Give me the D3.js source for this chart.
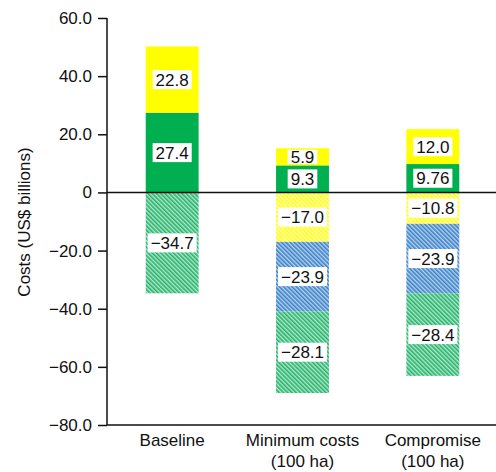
<!DOCTYPE html>
<html>
<head>
<meta charset="utf-8" />
<title>Costs by scenario</title>
<style>
html, body {
  margin: 0;
  padding: 0;
  background: #fff;
}
svg text {
  font-family: "Liberation Sans", Arial, Helvetica, sans-serif;
  fill: #111;
}
</style>
</head>
<body>
<script src="https://cdn.jsdelivr.net/npm/d3@7"></script>
<script>

// --------------------------------------------------------
// Data
const categories = [["Baseline"], ["Minimum costs", "(100 ha)"], ["Compromise", "(100 ha)"]]
const posGreen  = [27.4, 9.3, 9.76]
const posYellow = [22.8, 5.9, 12.0]
const negYellow = [0, -17.0, -10.8]
const negBlue   = [0, -23.9, -23.9]
const negGreen  = [-34.7, -28.1, -28.4]
const yTicks = [60, 40, 20, 0, -20, -40, -60, -80]

// stacking order: positives go up from zero, negatives go down
const series = [
  { key: 'posGreen',  values: posGreen,  fill: '#00b050' },
  { key: 'posYellow', values: posYellow, fill: '#ffff00' },
  { key: 'negYellow', values: negYellow, fill: 'url(#hatchYellow)' },
  { key: 'negBlue',   values: negBlue,   fill: 'url(#hatchBlue)' },
  { key: 'negGreen',  values: negGreen,  fill: 'url(#hatchGreen)' }
]

// --------------------------------------------------------
const w = 496
const h = 472
const axisX = 107
const fontSize = 17

const svg = d3.select('body').append('svg')
  .attr('width', w)
  .attr('height', h)

const x = d3.scaleBand()
  .domain(d3.range(categories.length))
  .range([axisX, 498])
  .paddingInner(0.594)
  .paddingOuter(0.297)

const y = d3.scaleLinear()
  .domain([-80, 60])
  .range([425, 18])

// hatch patterns for the negative (saved) costs
const defs = svg.append('defs')
function hatch(id, color, bg) {
  const p = defs.append('pattern')
    .attr('id', id)
    .attr('patternUnits', 'userSpaceOnUse')
    .attr('width', 3)
    .attr('height', 3)
    .attr('patternTransform', 'rotate(-45)')
  p.append('rect').attr('width', 3).attr('height', 3).attr('fill', bg)
  p.append('rect').attr('width', 1.6).attr('height', 3).attr('fill', color)
}
hatch('hatchYellow', '#ffff00', '#ffffd0')
hatch('hatchBlue', '#3a80c8', '#b8d4ee')
hatch('hatchGreen', '#22b26c', '#b6e8cb')

// compute stacked segments
const segments = []
categories.forEach(function(c, i) {
  let up = 0
  let down = 0
  series.forEach(function(s) {
    const v = s.values[i]
    if (!v) return
    let y0, y1
    if (v > 0) { y0 = up; y1 = up + v; up = y1 }
    else { y0 = down; y1 = down + v; down = y1 }
    segments.push({ i: i, v: v, y0: y0, y1: y1, fill: s.fill })
  })
})

const fmt = function(v) {
  const s = Math.round(v * 10) === v * 10 ? Math.abs(v).toFixed(1) : Math.abs(v).toFixed(2)
  return (v < 0 ? '\u2212' : '') + s
}

svg.append('g').selectAll('rect')
  .data(segments)
  .enter().append('rect')
  .attr('x', function(d) { return x(d.i) })
  .attr('width', x.bandwidth())
  .attr('y', function(d) { return y(Math.max(d.y0, d.y1)) })
  .attr('height', function(d) { return Math.abs(y(d.y0) - y(d.y1)) })
  .attr('fill', function(d) { return d.fill })

// value labels in white boxes
const labels = svg.append('g').selectAll('g')
  .data(segments)
  .enter().append('g')
  .attr('transform', function(d) {
    return 'translate(' + (x(d.i) + x.bandwidth() / 2) + ',' + y((d.y0 + d.y1) / 2) + ')'
  })

labels.append('text')
  .attr('text-anchor', 'middle')
  .attr('dy', '0.36em')
  .style('font-size', fontSize + 'px')
  .text(function(d) { return fmt(d.v) })

labels.each(function(d) {
  const g = d3.select(this)
  const bb = g.select('text').node().getBBox()
  const segH = Math.abs(y(d.y0) - y(d.y1))
  const bh = Math.min(bb.height, segH - 3)
  g.insert('rect', 'text')
    .attr('x', bb.x - 3)
    .attr('y', -bh / 2)
    .attr('width', bb.width + 6)
    .attr('height', bh)
    .attr('fill', '#fff')
})

// y axis
const yAxis = d3.axisLeft(y)
  .tickValues(yTicks)
  .tickSize(9)
  .tickPadding(6)
  .tickFormat(function(d) { return d === 0 ? '0' : (d < 0 ? '\u2212' : '') + Math.abs(d).toFixed(1) })

const ga = svg.append('g')
  .attr('transform', 'translate(' + axisX + ',0)')
  .call(yAxis)
ga.select('.domain').attr('d', 'M0,' + y(60) + 'V' + y(-80)).attr('stroke', '#111').attr('stroke-width', 1.5)
ga.selectAll('.tick line').attr('stroke', '#111').attr('stroke-width', 1.5)
ga.selectAll('.tick text').style('font-size', fontSize + 'px').attr('fill', '#111')
ga.attr('font-family', null)

// zero line and bottom line
svg.append('line')
  .attr('x1', axisX).attr('x2', w)
  .attr('y1', y(0)).attr('y2', y(0))
  .attr('stroke', '#111').attr('stroke-width', 1.5)
svg.append('line')
  .attr('x1', axisX).attr('x2', w)
  .attr('y1', y(-80)).attr('y2', y(-80))
  .attr('stroke', '#111').attr('stroke-width', 1.5)

// category labels
const cat = svg.append('g').selectAll('text')
  .data(categories)
  .enter().append('text')
  .attr('text-anchor', 'middle')
  .attr('x', function(d, i) { return x(i) + x.bandwidth() / 2 })
  .attr('y', 446)
  .style('font-size', fontSize + 'px')
cat.selectAll('tspan')
  .data(function(d) { return d })
  .enter().append('tspan')
  .attr('x', function() { return d3.select(this.parentNode).attr('x') })
  .attr('dy', function(d, j) { return j === 0 ? 0 : 21 })
  .text(function(d) { return d })

// axis title
svg.append('text')
  .attr('transform', 'translate(30,222) rotate(-90)')
  .attr('text-anchor', 'middle')
  .style('font-size', fontSize + 'px')
  .text('Costs (US$ billions)')

</script>
</body>
</html>
